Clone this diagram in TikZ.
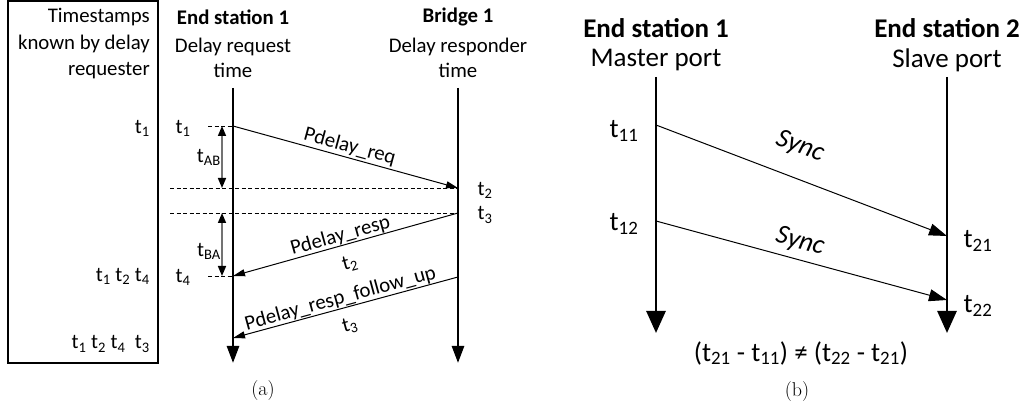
\documentclass[tikz,border=0pt]{standalone}
\usepackage{fontspec}
\newfontfamily\carl{Carlito}
\usetikzlibrary{arrows.meta}
\newcommand\tsb[1]{t\textsubscript{#1}}
\begin{document}
\begin{tikzpicture}[x=1pt,y=-1pt,
  txa/.style={font={\carl\fontsize{20.8}{25}\selectfont}, inner sep=0pt},
  txb/.style={font={\carl\fontsize{27}{32}\selectfont}, inner sep=0pt},
  subcap/.style={font={\fontsize{20}{24}\selectfont}, inner sep=0pt},
  axisA/.style={line width=2.6pt, -{Triangle[length=17pt,width=12pt]}},
  axisB/.style={line width=2.7pt, -{Triangle[length=22pt,width=19pt]}},
  msgA/.style={line width=1pt, -{Triangle[length=12pt,width=7pt]}},
  msgB/.style={line width=1pt, -{Triangle[length=18pt,width=12pt]}},
  guide/.style={line width=0.9pt, dash pattern=on 4pt off 2.5pt},
  span/.style={draw=black!55, line width=1.6pt,
    {Triangle[length=10pt,width=8pt,black]}-{Triangle[length=10pt,width=8pt,black]}}]
\useasboundingbox (0,0) rectangle (1025,411);

% ---- timestamps column ----
\draw[line width=1.3pt] (8,1) rectangle (158,363);
\node[txa, align=right, anchor=east, font={\carl\fontsize{20.8}{26.5}\selectfont}] (ktitle) at (150,44)
  {Timestamps\\known by delay\\requester};
\node[txa, anchor=east] (k1) at (150,128) {\tsb{1}};
\node[txa, anchor=east] (k2) at (150,276) {\tsb{1} \tsb{2} \tsb{4}};
\node[txa, anchor=east] (k3) at (150,344) {\tsb{1} \tsb{2} \tsb{4}\ \ \tsb{3}};

% ---- (a) peer delay exchange ----
\node[txa, font={\carl\bfseries\fontsize{20.8}{25}\selectfont}] (hA1) at (233,17) {End station 1};
\node[txa, align=center] (sA1) at (233,57.5) {Delay request\\time};
\node[txa, font={\carl\bfseries\fontsize{20.8}{25}\selectfont}] (hA2) at (458,17) {Bridge 1};
\node[txa, align=center] (sA2) at (458,57.5) {Delay responder\\time};

\coordinate (esAtop) at (233,88);
\coordinate (esAbot) at (233,363);
\coordinate (brAtop) at (458,88);
\coordinate (brAbot) at (458,363);
\draw[axisA] (esAtop) -- (esAbot);
\draw[axisA] (brAtop) -- (brAbot);

\coordinate (t1a) at (233,126);
\coordinate (t2a) at (458,188);
\coordinate (t3a) at (458,213);
\coordinate (t4a) at (233,276);
\coordinate (fuA) at (458,277);
\coordinate (fuB) at (233,338);

\coordinate (t1d) at (208,126);
\coordinate (t4d) at (208,276);
\coordinate (g2) at (170,188);
\coordinate (g3) at (170,213);
\draw[guide] (t1d) -- (t1a);
\draw[guide] (t4d) -- (t4a);
\draw[guide] (g2) -- (t2a);
\draw[guide] (g3) -- (t3a);

\coordinate (ab1) at (222,126);
\coordinate (ab2) at (222,188);
\coordinate (ba1) at (222,213);
\coordinate (ba2) at (222,276);
\draw[span] (ab1) -- (ab2);
\draw[span] (ba1) -- (ba2);
\node[txa, anchor=east] (tab) at (221,157) {t\textsubscript{AB}};
\node[txa, anchor=east] (tba) at (221,251) {t\textsubscript{BA}};

\draw[msgA] (t1a) -- (t2a);
\draw[msgA] (t3a) -- (t4a);
\draw[msgA] (fuA) -- (fuB);

\node[txa, anchor=south, rotate=-15.2, inner sep=1.5pt] (lreq) at (347,157) {Pdelay\_req};
\node[txa, anchor=south, rotate=15.6, inner sep=0.5pt] (lresp) at (343,245) {Pdelay\_resp};
\node[txa, rotate=15.6] (lresp2) at (350,264) {\tsb{2}};
\node[txa, anchor=south, rotate=15.3, inner sep=0.5pt] (lfu) at (343,308) {Pdelay\_resp\_follow\_up};
\node[txa, rotate=15.3] (lfu3) at (350,326) {\tsb{3}};

\node[txa] (lt1) at (183,128) {\tsb{1}};
\node[txa] (lt4) at (183,277) {\tsb{4}};
\node[txa] (lt2) at (485,190) {\tsb{2}};
\node[txa] (lt3) at (485,215) {\tsb{3}};

\node[subcap] (capA) at (263,391) {(a)};

% ---- (b) two Sync messages ----
\node[txb, font={\carl\bfseries\fontsize{27}{32}\selectfont}] (hB1) at (656,28) {End station 1};
\node[txb] (sB1) at (656,60) {Master port};
\node[txb, font={\carl\bfseries\fontsize{27}{32}\selectfont}] (hB2) at (947,28) {End station 2};
\node[txb] (sB2) at (947,60) {Slave port};

\coordinate (esBtop) at (656,77);
\coordinate (esBbot) at (656,333);
\coordinate (es2top) at (947,77);
\coordinate (es2bot) at (947,333);
\draw[axisB] (esBtop) -- (esBbot);
\draw[axisB] (es2top) -- (es2bot);

\coordinate (s11) at (656,125);
\coordinate (s21) at (947,236);
\coordinate (s12) at (656,221);
\coordinate (s22) at (947,300);
\draw[msgB] (s11) -- (s21);
\draw[msgB] (s12) -- (s22);

\node[txb, font={\carl\itshape\fontsize{27}{32}\selectfont}, rotate=-20.9] (sync1) at (800,147) {Sync};
\node[txb, font={\carl\itshape\fontsize{27}{32}\selectfont}, rotate=-15.2] (sync2) at (800,242) {Sync};

\node[txb] (l11) at (624,131) {\tsb{11}};
\node[txb] (l12) at (624,224) {\tsb{12}};
\node[txb] (l21) at (978,241) {\tsb{21}};
\node[txb] (l22) at (978,306) {\tsb{22}};

\node[txb] (ineq) at (801,353) {(\tsb{21} - \tsb{11}) ≠ (\tsb{22} - \tsb{21})};

\node[subcap] (capB) at (797,392) {(b)};
\end{tikzpicture}
\end{document}
